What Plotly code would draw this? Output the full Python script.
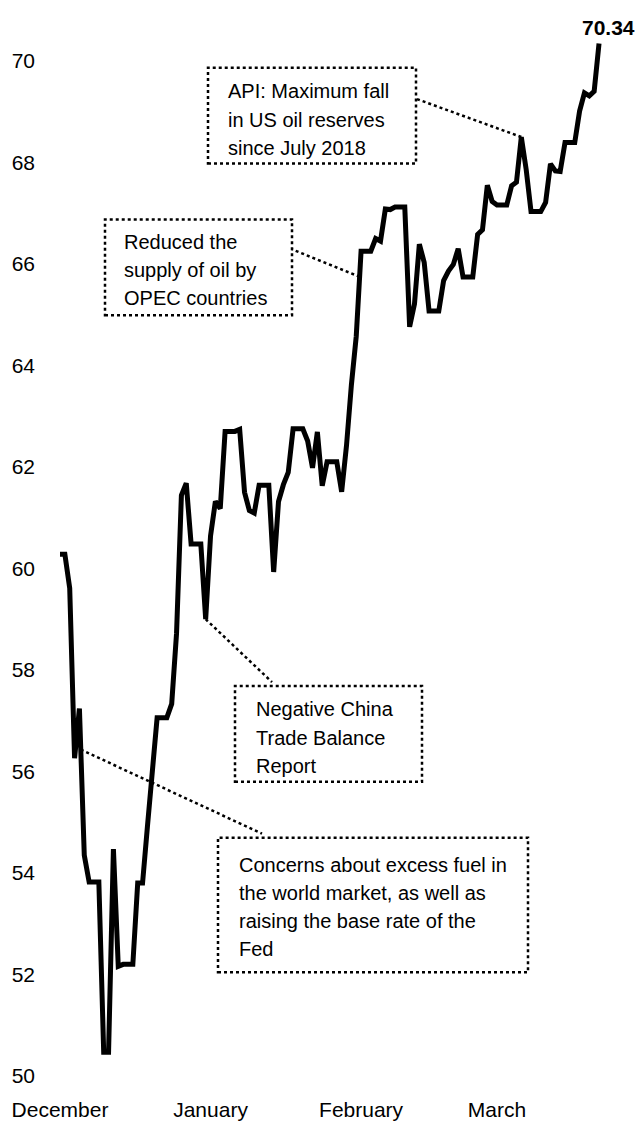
import pandas as pd
import plotly.graph_objects as go

# ---------------- data ----------------
start_date = "2018-12-15"
brent = [
    # December 15-31
    60.28, 60.28, 59.61, 56.26, 57.24, 54.35, 53.82, 53.82, 53.82, 50.47, 50.47,
    54.47, 52.16, 52.20, 52.20, 52.20, 53.80,
    # January
    53.80, 54.91, 55.95, 57.06, 57.06, 57.06, 57.33, 58.72, 61.44, 61.68, 60.48,
    60.48, 60.48, 59.00, 60.64, 61.32, 61.18, 62.70, 62.70, 62.70, 62.74, 61.50,
    61.14, 61.09, 61.64, 61.64, 61.64, 59.93, 61.32, 61.65, 61.89,
    # February
    62.75, 62.75, 62.75, 62.51, 61.98, 62.69, 61.63, 62.10, 62.10, 62.10, 61.51,
    62.42, 63.61, 64.57, 66.25, 66.25, 66.25, 66.50, 66.45, 67.08, 67.07, 67.12,
    67.12, 67.12, 64.76, 65.21, 66.39, 66.03,
    # March
    65.07, 65.07, 65.07, 65.67, 65.86, 65.99, 66.30, 65.74, 65.74, 65.74, 66.58,
    66.67, 67.55, 67.23, 67.16, 67.16, 67.16, 67.54, 67.61, 68.50, 67.86, 67.03,
    67.03, 67.03, 67.21, 67.97, 67.83, 67.82, 68.39, 68.39, 68.39,
    # April 1-5
    69.01, 69.37, 69.31, 69.40, 70.34,
]
dates = pd.date_range(start_date, periods=len(brent), freq="D")

month_tick_dates = ["2018-12-15", "2019-01-15", "2019-02-15", "2019-03-15"]
month_labels = ["December", "January", "February", "March"]
y_ticks = [50, 52, 54, 56, 58, 60, 62, 64, 66, 68, 70]

notes = [
    {"lines": ["API: Maximum fall", "in US oil reserves", "since July 2018"],
     "anchor": (95, 95, 0.0)},
    {"lines": ["Reduced the", "supply of oil by", "OPEC countries"],
     "anchor": (61, 62, 0.7)},
    {"lines": ["Negative China", "Trade Balance", "Report"],
     "anchor": (30, 30, 0.0)},
    {"lines": ["Concerns about excess fuel in", "the world market, as well as",
               "raising the base rate of the", "Fed"],
     "anchor": (4, 5, 0.28)},
]

# ---------------- layout geometry (page pixels) ----------------
W, H = 637, 1124
L, R, T, B = 40, 634, 12, 1079            # plot area in page pixels
PX0, PXD = 60.0, 4.856                    # pixel of first date, pixels per day
Y50, PYU = 1079.0, 50.9                   # pixel of value 50, pixels per unit

t0 = dates[0]
x_range = [t0 - pd.Timedelta(days=(PX0 - L) / PXD), t0 + pd.Timedelta(days=(R - PX0) / PXD)]
y_range = [50 + (Y50 - B) / PYU, 50 + (Y50 - T) / PYU]


def px_x(px):
    return (t0 + pd.Timedelta(days=(px - PX0) / PXD)).isoformat()


def px_y(py):
    return 50 + (Y50 - py) / PYU


def anchor_point(i0, i1, frac):
    d0, d1 = dates[i0], dates[i1]
    x = d0 + (d1 - d0) * frac if i1 != i0 else d0
    y = brent[i0] + (brent[i1] - brent[i0]) * frac
    return x.isoformat(), y


# box geometry (px): left, top, right, bottom; text left; first baseline; connector end
box_geom = [
    dict(box=(208, 68, 416, 164), tx=226, base=98.5, conn=(416, 99)),
    dict(box=(105, 220, 292, 316), tx=122, base=249.3, conn=(292, 250)),
    dict(box=(235, 688, 422, 784), tx=254, base=718.3, conn=(272, 684)),
    dict(box=(218, 840, 528, 975), tx=237, base=874, conn=(262, 836)),
]
LINE_STEP = 28.3
FONT = "Liberation Sans Narrow, Arial Narrow, Liberation Sans, Arial, sans-serif"
NOTE_SIZE = 20
TICK_SIZE = 21

fig = go.Figure()
fig.add_trace(go.Scatter(
    x=dates, y=brent, mode="lines",
    line=dict(color="black", width=5),
    hoverinfo="skip", showlegend=False,
))

shapes = []
annotations = []
for note, g in zip(notes, box_geom):
    bl, bt, br, bb = g["box"]
    shapes.append(dict(type="rect", xref="x", yref="y",
                       x0=px_x(bl), x1=px_x(br), y0=px_y(bb), y1=px_y(bt),
                       line=dict(color="black", width=2.5, dash="dot"), layer="above"))
    ax, ay = anchor_point(*note["anchor"])
    cx, cy = g["conn"]
    shapes.append(dict(type="line", xref="x", yref="y",
                       x0=ax, y0=ay, x1=px_x(cx), y1=px_y(cy),
                       line=dict(color="black", width=2.5, dash="dot"), layer="below"))
    for k, txt in enumerate(note["lines"]):
        annotations.append(dict(
            x=px_x(g["tx"]), y=px_y(g["base"] + k * LINE_STEP - 7),
            xref="x", yref="y", xanchor="left", yanchor="middle",
            text=txt, showarrow=False,
            font=dict(family=FONT, size=NOTE_SIZE, color="black"),
        ))

annotations.append(dict(
    x=dates[-1], y=brent[-1], xref="x", yref="y",
    xanchor="center", yanchor="bottom", xshift=9, yshift=3,
    text=f"<b>{brent[-1]:.2f}</b>", showarrow=False,
    font=dict(family=FONT, size=TICK_SIZE, color="black"),
))

fig.update_layout(
    width=W, height=H,
    margin=dict(l=L, r=W - R, t=T, b=H - B, pad=0),
    paper_bgcolor="white", plot_bgcolor="white",
    shapes=shapes, annotations=annotations,
    font=dict(family=FONT, size=TICK_SIZE, color="black"),
    hovermode=False,
    xaxis=dict(range=x_range, showgrid=False, zeroline=False, showline=False,
               ticks="", tickvals=month_tick_dates, ticktext=month_labels,
               tickfont=dict(family=FONT, size=TICK_SIZE, color="black"),
               ticklabelstandoff=19),
    yaxis=dict(range=y_range, showgrid=False, zeroline=False, showline=False,
               ticks="", tickvals=y_ticks, ticktext=[str(v) for v in y_ticks],
               tickfont=dict(family=FONT, size=TICK_SIZE, color="black"),
               ticklabelstandoff=4),
)

# no mode bar; remove the default page margin so the figure fills the window exactly
fig.write_html("out.html", config={"displayModeBar": False},
               post_script="document.body.style.margin='0';")
